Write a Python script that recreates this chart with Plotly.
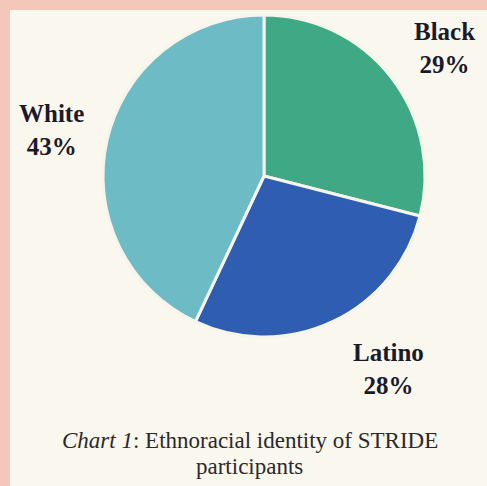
import plotly.graph_objects as go

labels = ["Black", "Latino", "White"]
values = [29, 28, 43]
colors = ["#3fa986", "#2f5db2", "#6dbcc5"]
caption_lines = ["<i>Chart 1</i>: Ethnoracial identity of STRIDE", "participants"]

W, H = 487, 486
cx, cy, r = 264, 176, 161

fig = go.Figure()
fig.add_trace(go.Pie(
    labels=labels, values=values, sort=False, direction="clockwise",
    rotation=0, textinfo="none", hoverinfo="label+percent",
    marker=dict(colors=colors, line=dict(color="#f7f4ec", width=3)),
    domain=dict(x=[(cx - r) / W, (cx + r) / W], y=[1 - (cy + r) / H, 1 - (cy - r) / H]),
    showlegend=False,
))

lab_pos = {"Black": (444, 48), "Latino": (388, 369), "White": (51, 130)}
for lab, v in zip(labels, values):
    x, y = lab_pos[lab]
    fig.add_annotation(
        x=x / W, y=1 - y / H, xref="paper", yref="paper",
        text=f"<b>{lab}<br>{v}%</b>", showarrow=False,
        font=dict(family="Liberation Serif", size=25, color="#1a1a2a"),
        align="center", xanchor="center", yanchor="middle",
    )

for txt, y in zip(caption_lines, [440, 466]):
    fig.add_annotation(
        x=250 / W, y=1 - y / H, xref="paper", yref="paper",
        text=txt, showarrow=False, align="center", xanchor="center", yanchor="middle",
        font=dict(family="Liberation Serif", size=23, color="#2a2a2a"),
    )

fig.add_shape(type="rect", xref="paper", yref="paper",
              x0=10 / W, x1=1.01, y0=-0.01, y1=1 - 10 / H,
              fillcolor="#faf7ef", line=dict(width=0), layer="below")

fig.update_layout(
    width=W, height=H, margin=dict(l=0, r=0, t=0, b=0),
    paper_bgcolor="#f3c7b9", plot_bgcolor="#faf7ef",
)

fig.write_html("out.html")
